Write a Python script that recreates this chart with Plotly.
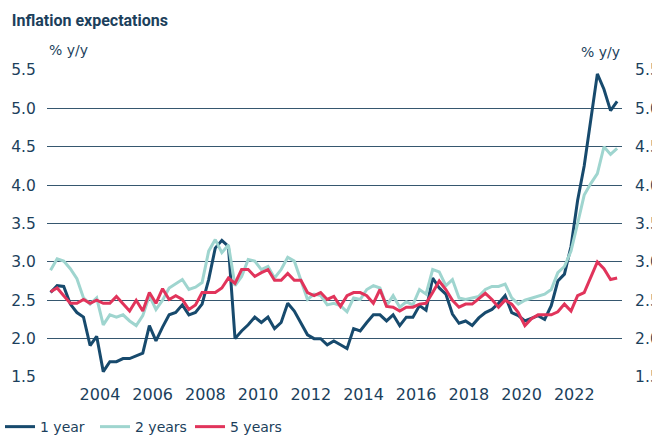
import plotly.graph_objects as go

# Quarterly survey data, 2002Q1 - 2023Q3
start_year = 2002
n_quarters = 87
quarters = [f"{start_year + i // 4}Q{i % 4 + 1}" for i in range(n_quarters)]

one_year = [
    2.60, 2.69, 2.68, 2.45, 2.34, 2.28, 1.91, 2.03, 1.57, 1.70,
    1.70, 1.74, 1.74, 1.77, 1.81, 2.17, 1.97, 2.15, 2.31, 2.34,
    2.44, 2.31, 2.34, 2.45, 2.77, 3.18, 3.28, 3.20, 2.00, 2.10,
    2.18, 2.28, 2.21, 2.28, 2.13, 2.21, 2.46, 2.36, 2.21, 2.05,
    2.00, 2.00, 1.92, 1.97, 1.92, 1.87, 2.13, 2.10, 2.21, 2.31,
    2.31, 2.23, 2.31, 2.17, 2.28, 2.28, 2.43, 2.37, 2.79, 2.66,
    2.58, 2.32, 2.20, 2.23, 2.17, 2.27, 2.34, 2.38, 2.46, 2.56,
    2.34, 2.30, 2.23, 2.26, 2.30, 2.25, 2.43, 2.75, 2.84, 3.20,
    3.80, 4.25, 4.85, 5.45, 5.25, 4.97, 5.09,
]
two_years = [
    2.89, 3.04, 3.01, 2.91, 2.78, 2.53, 2.45, 2.53, 2.18, 2.31,
    2.28, 2.31, 2.23, 2.17, 2.30, 2.56, 2.38, 2.50, 2.66, 2.71,
    2.77, 2.64, 2.67, 2.73, 3.14, 3.29, 3.12, 3.22, 2.69, 2.81,
    3.03, 3.01, 2.90, 2.94, 2.79, 2.90, 3.06, 3.01, 2.77, 2.51,
    2.58, 2.56, 2.44, 2.46, 2.43, 2.35, 2.53, 2.51, 2.64, 2.69,
    2.66, 2.43, 2.56, 2.41, 2.48, 2.44, 2.64, 2.58, 2.90, 2.87,
    2.69, 2.77, 2.53, 2.51, 2.53, 2.55, 2.64, 2.68, 2.68, 2.71,
    2.53, 2.45, 2.50, 2.53, 2.56, 2.58, 2.64, 2.86, 2.94, 3.14,
    3.50, 3.87, 4.02, 4.15, 4.50, 4.40, 4.48,
]
five_years = [
    2.61, 2.66, 2.56, 2.46, 2.46, 2.51, 2.46, 2.50, 2.46, 2.46,
    2.55, 2.45, 2.36, 2.50, 2.36, 2.60, 2.46, 2.65, 2.51, 2.56,
    2.51, 2.38, 2.44, 2.60, 2.60, 2.60, 2.66, 2.79, 2.72, 2.90,
    2.90, 2.81, 2.86, 2.90, 2.76, 2.76, 2.85, 2.76, 2.76, 2.60,
    2.56, 2.60, 2.51, 2.55, 2.42, 2.56, 2.60, 2.60, 2.56, 2.46,
    2.64, 2.42, 2.41, 2.36, 2.41, 2.41, 2.45, 2.46, 2.60, 2.75,
    2.64, 2.50, 2.41, 2.45, 2.45, 2.52, 2.59, 2.51, 2.41, 2.50,
    2.45, 2.34, 2.17, 2.26, 2.31, 2.31, 2.31, 2.35, 2.45, 2.36,
    2.56, 2.60, 2.79, 3.00, 2.91, 2.77, 2.79,
]

x_tick_years = [2004, 2006, 2008, 2010, 2012, 2014, 2016, 2018, 2020, 2022]
y_ticks = [1.5, 2.0, 2.5, 3.0, 3.5, 4.0, 4.5, 5.0, 5.5]
y_tick_labels = [f"{v:.1f}" for v in y_ticks]

# mid-quarter decimal year positions
def q_to_x(q):
    y, n = q.split("Q")
    return int(y) + (int(n) - 1) / 4 + 0.125

xs = [q_to_x(q) for q in quarters]

NAVY = "#1c3f5c"
C1 = "#174a6d"
C2 = "#9fd5cf"
C5 = "#e1345b"
GRID = "#36576f"
FONT = "DejaVu Sans"

fig = go.Figure()
for name, ys, col in [("1 year", one_year, C1), ("2 years", two_years, C2), ("5 years", five_years, C5)]:
    fig.add_trace(go.Scatter(x=xs, y=ys, name=name, mode="lines",
                             line=dict(color=col, width=3)))
# invisible trace for right axis
fig.add_trace(go.Scatter(x=[xs[0]], y=[one_year[0]], yaxis="y2", showlegend=False,
                         hoverinfo="skip", mode="markers", marker=dict(opacity=0)))

fig.update_layout(
    width=652, height=436,
    margin=dict(l=47, r=30, t=70, b=59, autoexpand=False),
    paper_bgcolor="white", plot_bgcolor="white",
    font=dict(family=FONT, size=14, color=NAVY),
    title=dict(text="<b>Inflation expectations</b>", x=0.018, xanchor="left",
               y=0.953, yanchor="middle", pad=dict(t=0, b=0, l=0, r=0),
               font=dict(family="Roboto", size=16, color=NAVY)),
    xaxis=dict(range=[2001.99, 2023.81], tickvals=x_tick_years,
               ticktext=[str(v) for v in x_tick_years],
               showgrid=False, zeroline=False, showline=False,
               ticks="", ticklabelstandoff=6,
               tickfont=dict(family=FONT, size=16, color=NAVY)),
    yaxis=dict(range=[1.5, 5.5], tickvals=y_ticks, ticktext=y_tick_labels,
               showgrid=True, gridcolor=GRID, gridwidth=1, zeroline=False,
               layer="below traces",
               ticks="outside", ticklen=7, tickcolor="rgba(0,0,0,0)",
               tickfont=dict(family=FONT, size=15.5, color=NAVY)),
    yaxis2=dict(range=[1.5, 5.5], tickvals=y_ticks, ticktext=y_tick_labels,
                overlaying="y", side="right", showgrid=False, zeroline=False,
                ticks="outside", ticklen=9, tickcolor="rgba(0,0,0,0)",
                tickfont=dict(family=FONT, size=15.5, color=NAVY)),
    legend=dict(orientation="h", xref="container", yref="paper",
                x=0.0, y=-0.163, xanchor="left", yanchor="middle",
                itemwidth=30, entrywidth=50, entrywidthmode="pixels",
                font=dict(family=FONT, size=14, color=NAVY),
                tracegroupgap=0),
    showlegend=True,
    annotations=[
        dict(text="% y/y", xref="paper", yref="paper", x=0.0, y=1.0, yshift=20,
             xanchor="left", yanchor="middle", showarrow=False,
             font=dict(family=FONT, size=14, color=NAVY)),
        dict(text="% y/y", xref="paper", yref="paper", x=1.0, y=1.0, yshift=18,
             xanchor="right", yanchor="middle", showarrow=False,
             font=dict(family=FONT, size=14, color=NAVY)),
    ],
)

fig.write_html("out.html", config={"displayModeBar": False},
               post_script="document.body.style.margin='0';document.body.style.overflow='hidden';")
